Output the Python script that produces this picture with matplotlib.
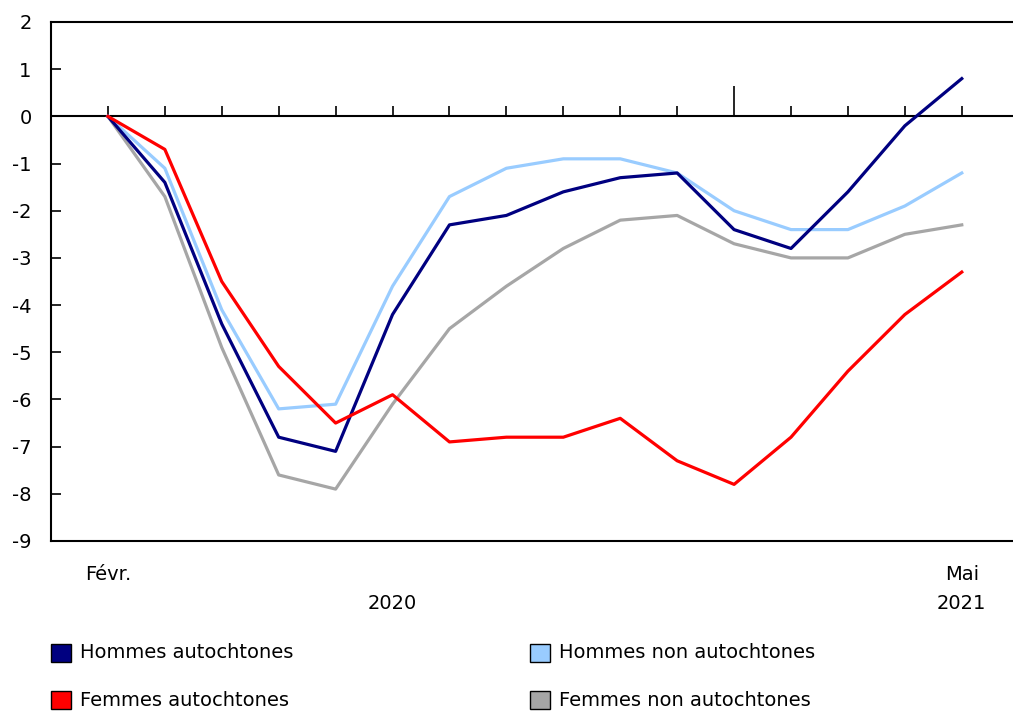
import numpy as np
import matplotlib.pyplot as plt
from matplotlib.patches import Rectangle

months = np.arange(16)  # Févr. 2020 .. Mai 2021
hommes_aut = [0, -1.4, -4.4, -6.8, -7.1, -4.2, -2.3, -2.1, -1.6, -1.3, -1.2, -2.4, -2.8, -1.6, -0.2, 0.8]
hommes_non = [0, -1.1, -4.1, -6.2, -6.1, -3.6, -1.7, -1.1, -0.9, -0.9, -1.2, -2.0, -2.4, -2.4, -1.9, -1.2]
femmes_aut = [0, -0.7, -3.5, -5.3, -6.5, -5.9, -6.9, -6.8, -6.8, -6.4, -7.3, -7.8, -6.8, -5.4, -4.2, -3.3]
femmes_non = [0, -1.7, -4.9, -7.6, -7.9, -6.1, -4.5, -3.6, -2.8, -2.2, -2.1, -2.7, -3.0, -3.0, -2.5, -2.3]

labels = ['Hommes autochtones', 'Hommes non autochtones', 'Femmes autochtones', 'Femmes non autochtones']
colors = ['#000080', '#99ccff', '#ff0000', '#a6a6a6']
year_start = 11  # janvier 2021

plt.rcParams['font.family'] = ['DejaVu Sans']
plt.rcParams['axes.unicode_minus'] = False
fs = 14

fig = plt.figure(figsize=(10.13, 7.11), dpi=100)
ax = fig.add_axes([51/1013, 1-541/711, 1-51/1013, (541-22)/711])

# zero line with month ticks
ax.axhline(0, color='black', lw=1.5, zorder=1)
short = [m for m in months if m != year_start]
ax.vlines(short, 0, 0.21, color='black', lw=1.2, zorder=1)
ax.vlines([year_start], 0, 0.64, color='black', lw=1.2, zorder=1)

ax.plot(months, femmes_non, color=colors[3], lw=2.3, zorder=2)
ax.plot(months, hommes_non, color=colors[1], lw=2.3, zorder=3)
ax.plot(months, hommes_aut, color=colors[0], lw=2.3, zorder=4)
ax.plot(months, femmes_aut, color=colors[2], lw=2.3, zorder=5)

ax.set_xlim(-1, 15.9)
ax.set_ylim(-9, 2)
ax.set_yticks(range(-9, 3))
ax.tick_params(axis='y', direction='in', length=7, width=1.2, labelsize=fs, pad=14)
ax.set_xticks([])
ax.spines['right'].set_visible(False)
for s in ['left', 'top', 'bottom']:
    ax.spines[s].set_linewidth(1.5)

# x labels
ax.text(0, -9.7, 'Févr.', ha='center', va='center', fontsize=fs)
ax.text(15, -9.7, 'Mai', ha='center', va='center', fontsize=fs)
ax.text(5, -10.33, '2020', ha='center', va='center', fontsize=fs)
ax.text(15, -10.33, '2021', ha='center', va='center', fontsize=fs)
for t in ax.texts:
    t.set_clip_on(False)

# legend
pos = [(51, 653), (530, 653), (51, 700), (530, 700)]
for (px, py), lab, col in zip(pos, labels, colors):
    fig.add_artist(Rectangle((px/1013, 1-(py+9)/711), 20/1013, 18/711,
                             transform=fig.transFigure, facecolor=col,
                             edgecolor='black', lw=1))
    fig.text((px+29)/1013, 1-py/711, lab, ha='left', va='center', fontsize=fs)

fig.savefig('out.png', dpi=100)
